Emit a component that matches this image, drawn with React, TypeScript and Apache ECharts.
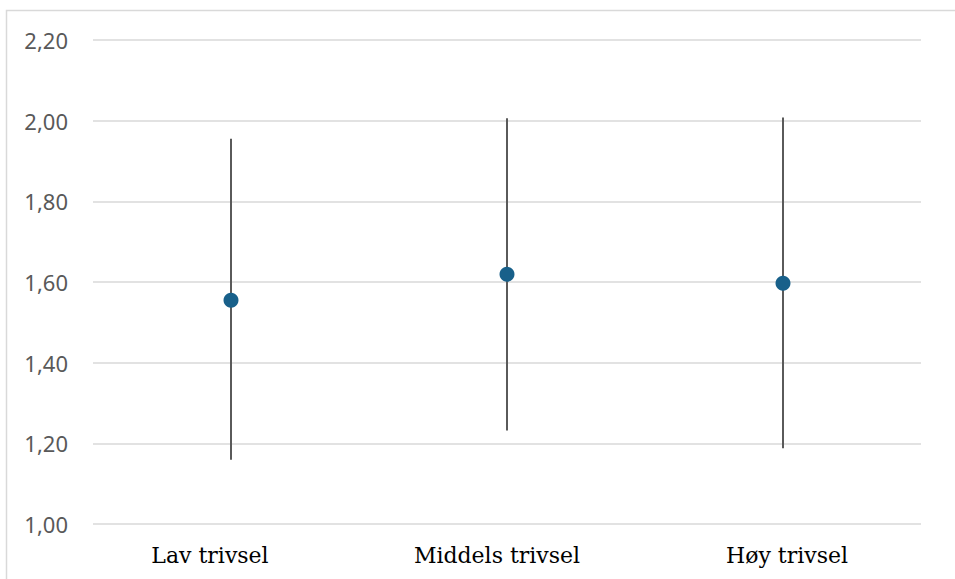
import React, { useEffect, useRef } from "react";
import * as echarts from "echarts";

const categories = ["Lav trivsel", "Middels trivsel", "Høy trivsel"];
const means = [1.555, 1.619, 1.597];
const lowers = [1.159, 1.232, 1.188];
const uppers = [1.955, 2.006, 2.008];
const yTicks = { min: 1.0, max: 2.2, interval: 0.2 };

export default function App() {
  const ref = useRef<HTMLDivElement>(null);
  useEffect(() => {
    if (!ref.current) return;
    const chart = echarts.init(ref.current, undefined, { renderer: "svg" });
    const errData = categories.map((_, i) => [i, lowers[i], uppers[i]]);
    const labelBase = { color: "#000000", fontFamily: "DejaVu Serif", fontSize: 22 };
    chart.setOption({
      animation: false,
      backgroundColor: "#ffffff",
      grid: { left: 93, right: 34, top: 40, bottom: 55, containLabel: false },
      graphic: [
        {
          type: "rect",
          shape: { x: 6.5, y: 10.5, width: 1200, height: 1000 },
          style: { fill: "none", stroke: "#d9d9d9", lineWidth: 1.5 },
          silent: true,
          z: -1,
        },
      ],
      xAxis: {
        type: "category",
        data: categories,
        boundaryGap: true,
        axisLine: { show: false },
        axisTick: { show: false },
        axisLabel: {
          interval: 0,
          hideOverlap: false,
          margin: 20,
          ...labelBase,
          formatter: (v: string, i: number) => `{c${i}|${v}}`,
          rich: {
            c0: { ...labelBase, padding: [0, 42, 0, 0] },
            c1: { ...labelBase, padding: [0, 20, 0, 0] },
            c2: { ...labelBase, padding: [0, 0, 0, 8] },
          },
        },
      },
      yAxis: {
        type: "value",
        min: yTicks.min,
        max: yTicks.max,
        interval: yTicks.interval,
        axisLine: { show: false },
        axisTick: { show: false },
        splitLine: { lineStyle: { color: "#d9d9d9", width: 1.5 } },
        axisLabel: {
          margin: 25,
          color: "#595959",
          fontFamily: "Noto Sans",
          fontSize: 22,
          formatter: (v: number) => v.toFixed(2).replace(".", ","),
        },
      },
      series: [
        {
          type: "custom",
          data: errData,
          renderItem: (params: any, api: any) => {
            const x = api.value(0);
            const lo = api.coord([x, api.value(1)]);
            const hi = api.coord([x, api.value(2)]);
            return {
              type: "line",
              shape: { x1: lo[0], y1: lo[1], x2: hi[0], y2: hi[1] },
              style: { stroke: "#5a5a5a", lineWidth: 2 },
            };
          },
          z: 2,
        },
        {
          type: "scatter",
          data: means,
          symbol: "circle",
          symbolSize: 15,
          itemStyle: { color: "#18608a", opacity: 1 },
          z: 3,
        },
      ],
    });
    return () => chart.dispose();
  }, []);
  return (
    <div
      ref={ref}
      style={{ position: "fixed", left: 0, top: 0, width: 955, height: 579 }}
    />
  );
}
